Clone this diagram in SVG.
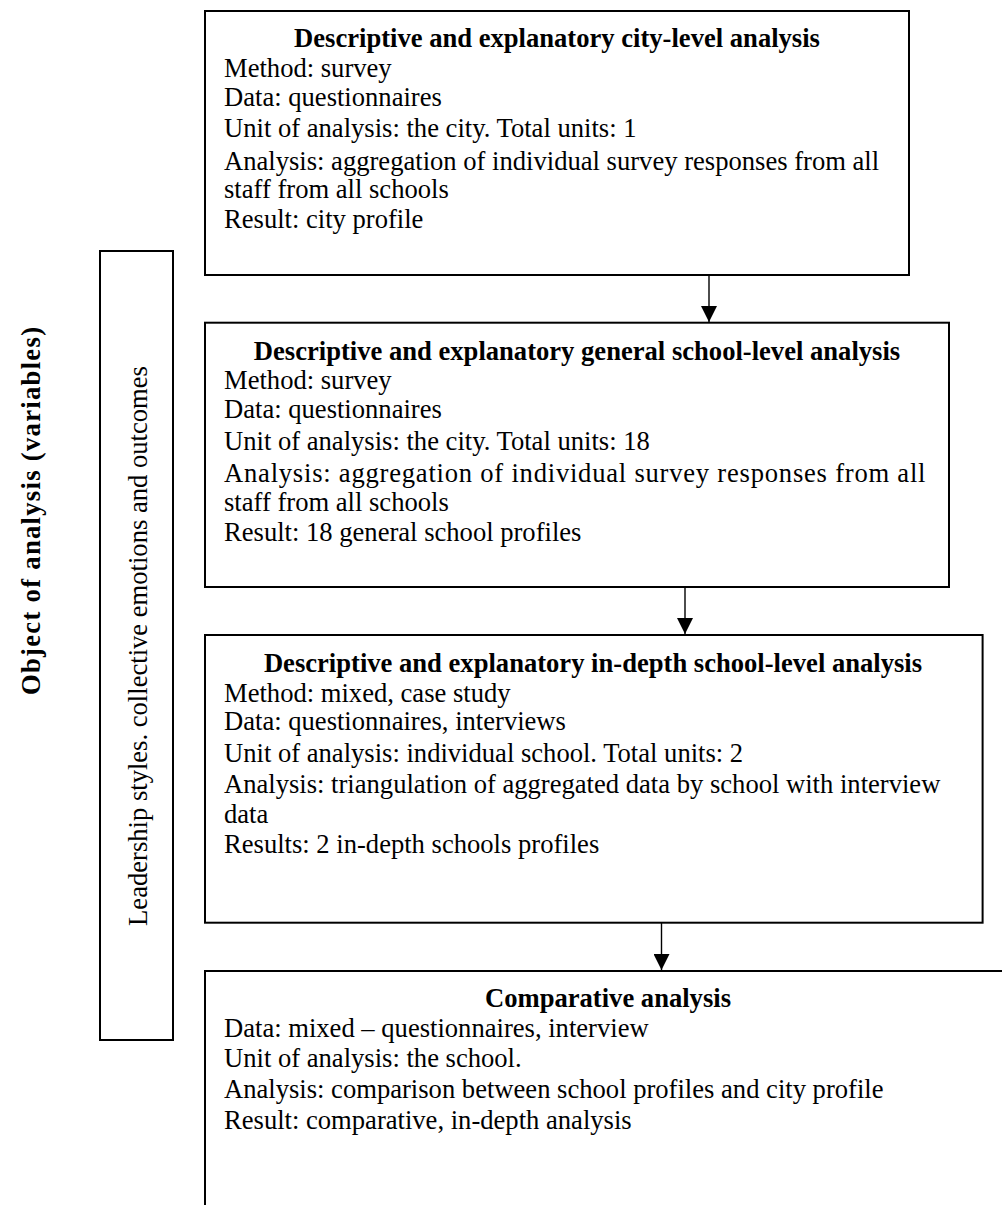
<svg xmlns="http://www.w3.org/2000/svg" width="1002" height="1205" viewBox="0 0 1002 1205">
<style>
.box{fill:#fff;stroke:#000;stroke-width:2}
.t{font-family:"Liberation Serif","Times New Roman",serif;font-size:26.6px;fill:#000}
.b{font-weight:bold}
.c{text-anchor:middle}
.conn{stroke:#000;stroke-width:1.4;fill:none}
</style>
<defs>
<marker id="arr" markerUnits="userSpaceOnUse" markerWidth="16" markerHeight="16" refX="16" refY="8" orient="auto">
<path d="M0,0 L16,8 L0,16 Z" fill="#000"/>
</marker>
</defs>
<rect width="1002" height="1205" fill="#fff"/>

<g id="connectors">
<line class="conn" x1="709" y1="275" x2="709" y2="322" marker-end="url(#arr)"/>
<line class="conn" x1="685" y1="587" x2="685" y2="634" marker-end="url(#arr)"/>
<line class="conn" x1="661.5" y1="923" x2="661.5" y2="970" marker-end="url(#arr)"/>
</g>

<g id="node-object-label">
<text class="t b c" font-size="28" transform="translate(40 511) rotate(-90)" textLength="368" lengthAdjust="spacing">Object of analysis (variables)</text>
</g>

<g id="node-variables">
<rect class="box" x="100" y="251" width="73" height="789"/>
<text class="t c" transform="translate(146.5 646) rotate(-90)">Leadership styles. collective emotions and outcomes</text>
</g>

<g id="node-city">
<rect class="box" x="205" y="11" width="704" height="264"/>
<text class="t b c" x="557" y="46.7">Descriptive and explanatory city-level analysis</text>
<text class="t" x="224" y="77">Method: survey</text>
<text class="t" x="224" y="106">Data: questionnaires</text>
<text class="t" x="224" y="137">Unit of analysis: the city. Total units: 1</text>
<text class="t" x="224" y="170">Analysis: aggregation of individual survey responses from all</text>
<text class="t" x="224" y="198">staff from all schools</text>
<text class="t" x="224" y="228">Result: city profile</text>
</g>

<g id="node-general-school">
<rect class="box" x="205" y="322.7" width="744" height="264.3"/>
<text class="t b c" x="577" y="360">Descriptive and explanatory general school-level analysis</text>
<text class="t" x="224" y="389">Method: survey</text>
<text class="t" x="224" y="418">Data: questionnaires</text>
<text class="t" x="224" y="450">Unit of analysis: the city. Total units: 18</text>
<text class="t" x="224" y="482" textLength="701.5" lengthAdjust="spacing">Analysis: aggregation of individual survey responses from all</text>
<text class="t" x="224" y="511">staff from all schools</text>
<text class="t" x="224" y="541">Result: 18 general school profiles</text>
</g>

<g id="node-indepth-school">
<rect class="box" x="205" y="635" width="777.6" height="287.7"/>
<text class="t b c" x="593" y="671.7">Descriptive and explanatory in-depth school-level analysis</text>
<text class="t" x="224" y="701.7">Method: mixed, case study</text>
<text class="t" x="224" y="730">Data: questionnaires, interviews</text>
<text class="t" x="224" y="761.7">Unit of analysis: individual school. Total units: 2</text>
<text class="t" x="224" y="793">Analysis: triangulation of aggregated data by school with interview</text>
<text class="t" x="224" y="823">data</text>
<text class="t" x="224" y="853">Results: 2 in-depth schools profiles</text>
</g>

<g id="node-comparative">
<path class="box" d="M1010,971 H205 V1210"/>
<text class="t b c" x="608" y="1006.7">Comparative analysis</text>
<text class="t" x="224" y="1036.7">Data: mixed – questionnaires, interview</text>
<text class="t" x="224" y="1066.7">Unit of analysis: the school.</text>
<text class="t" x="224" y="1098">Analysis: comparison between school profiles and city profile</text>
<text class="t" x="224" y="1129">Result: comparative, in-depth analysis</text>
</g>
</svg>
